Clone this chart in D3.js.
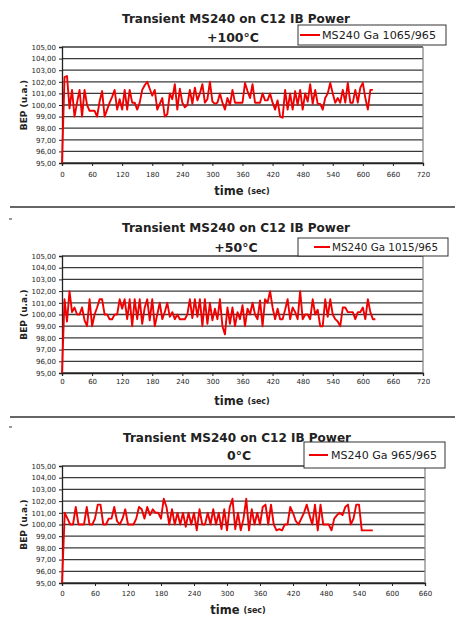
<!DOCTYPE html>
<html><head><meta charset="utf-8">
<script src="https://cdn.jsdelivr.net/npm/d3@7"></script>
<style>body{margin:0;background:#fff} svg{display:block}</style>
</head><body>
<svg id="c" width="459" height="618"></svg>
<script>
const chartTitle = "Transient MS240 on C12 IB Power";
const subtitles = ["+100°C", "+50°C", "0°C"];
const seriesNames = ["MS240 Ga 1065/965", "MS240 Ga 1015/965", "MS240 Ga 965/965"];
const yTicks = [95, 96, 97, 98, 99, 100, 101, 102, 103, 104, 105];
const xTicks720 = [0, 60, 120, 180, 240, 300, 360, 420, 480, 540, 600, 660, 720];
const xTicks660 = [0, 60, 120, 180, 240, 300, 360, 420, 480, 540, 600, 660];
const sampleStep = 5; // seconds between samples

const values100 = [
  95,102.4,102.5,99.7,101.3,99.0,100.2,101.3,99.0,101.3,
  100.0,99.5,99.5,99.5,99.0,100.3,101.2,99.0,99.6,100.2,
  100.7,101.3,99.6,100.5,99.6,101.3,99.6,101.3,100.2,100.2,
  99.6,100.2,101.3,101.7,102.0,101.4,100.8,101.3,99.6,100.1,
  100.6,99.0,99.2,101.0,100.5,101.8,99.6,101.4,100.2,99.8,
  100.0,101.3,100.1,101.5,100.4,101.0,101.8,100.2,100.5,102.0,
  100.3,100.1,100.2,101.0,100.2,99.6,100.6,100.0,101.3,100.2,
  100.2,100.2,100.2,101.9,101.2,100.6,101.8,100.2,100.2,100.2,
  101.0,100.4,100.4,101.0,100.2,99.6,100.4,99.0,98.9,101.3,
  99.6,101.0,99.6,101.2,100.0,101.3,99.6,101.0,100.3,101.8,
  100.1,101.3,100.1,100.1,99.6,100.6,101.0,101.9,101.0,100.2,
  100.6,100.2,101.3,100.2,101.9,100.2,100.2,101.3,100.2,101.5,
  101.9,100.6,99.6,101.3,101.3
];
const values50 = [
  95,101.3,99.4,102.0,100.2,100.6,100.0,100.0,100.6,99.5,
  99.0,101.3,99.0,100.0,100.6,101.3,101.3,100.0,100.0,99.6,
  99.6,100.0,100.0,101.3,100.5,101.3,99.6,101.3,99.0,101.3,
  99.6,101.3,99.2,100.6,101.3,99.5,101.3,99.0,100.0,101.0,
  99.6,100.2,101.0,99.8,100.2,99.6,100.0,99.6,99.6,99.6,
  100.0,101.3,99.7,101.3,99.8,101.3,99.0,101.3,99.2,101.0,
  99.5,100.5,99.6,101.3,99.0,98.3,100.6,99.2,100.6,99.0,
  100.2,99.6,100.8,99.0,100.5,100.0,101.0,100.0,99.6,101.2,
  99.0,101.3,101.0,102.0,100.6,99.6,100.5,99.6,99.6,100.4,
  101.3,99.6,100.6,100.2,99.6,102.0,99.6,100.0,100.0,99.6,
  101.3,100.0,100.4,99.0,99.0,101.3,99.8,101.3,100.0,99.6,
  99.4,99.0,100.6,100.6,100.2,100.2,100.2,99.6,100.2,100.2,
  100.6,99.6,101.3,100.2,99.6,99.6
];
const values0 = [
  95,101.0,100.5,100.0,100.0,101.5,100.0,100.0,100.0,101.5,
  100.0,100.0,100.5,101.7,101.7,100.0,100.0,100.5,100.5,101.5,
  100.3,100.0,100.5,101.3,100.0,100.0,100.0,100.5,101.5,101.3,
  100.5,101.5,100.8,101.3,101.0,101.0,100.5,102.2,101.5,100.0,
  101.3,100.0,101.0,100.0,101.0,99.8,101.0,100.0,101.0,99.5,
  101.3,100.0,100.0,101.0,100.0,101.3,100.0,101.0,99.6,101.3,
  99.5,101.5,102.2,99.6,101.0,99.5,100.5,102.2,99.5,101.3,
  100.0,101.0,100.0,101.5,101.7,100.0,101.7,100.0,99.5,99.6,
  99.5,100.0,100.0,101.5,101.0,100.3,100.0,100.5,101.0,101.7,
  100.8,100.0,101.7,99.5,101.7,100.0,100.0,100.0,99.5,100.5,
  100.8,101.0,100.8,101.5,101.7,100.0,100.5,101.7,101.7,99.5,
  99.5,99.5,99.5,99.5
];

const layouts = [
  {values: values100, xTicks: xTicks720, top: 47, bottom: 163, left: 62, right: 423,
   titleX: 236, titleY: 18, subX: 233, subY: 37,
   legend: {x: 298, y: 25, w: 148, h: 20, lx1: 300, lx2: 320, tx: 322, tw: 114},
   xlabY: 175, xtitleX: 242, xtitleY: 191},
  {values: values50, xTicks: xTicks720, top: 256, bottom: 373, left: 62, right: 423,
   titleX: 236, titleY: 227, subX: 236, subY: 247,
   legend: {x: 298, y: 238, w: 150, h: 18, lx1: 314, lx2: 330, tx: 332, tw: 106},
   xlabY: 382, xtitleX: 242, xtitleY: 401},
  {values: values0, xTicks: xTicks660, top: 466, bottom: 583, left: 62, right: 425,
   titleX: 237, titleY: 437, subX: 239, subY: 455,
   legend: {x: 304, y: 442, w: 141, h: 26, lx1: 309, lx2: 328, tx: 331, tw: 106},
   xlabY: 594, xtitleX: 238, xtitleY: 610}
];

const svg = d3.select("#c");
const fmt = v => d3.format(".2f")(v).replace(".", ",");

// separators
[207, 417].forEach(y => {
  svg.append("line").attr("x1", 10).attr("x2", 455).attr("y1", y).attr("y2", y)
    .attr("stroke", "#333").attr("stroke-width", 1.5);
});
[219, 427].forEach(y => {
  svg.append("line").attr("x1", 9).attr("x2", 12).attr("y1", y).attr("y2", y)
    .attr("stroke", "#333").attr("stroke-width", 1);
});

layouts.forEach((L, i) => {
  const g = svg.append("g");
  const xMax = L.xTicks[L.xTicks.length - 1];
  const x = d3.scaleLinear().domain([0, xMax]).range([L.left, L.right]);
  const y = d3.scaleLinear().domain([95, 105]).range([L.bottom, L.top]);

  // grid
  g.selectAll(".grid").data(yTicks).join("line")
    .attr("x1", L.left).attr("x2", L.right)
    .attr("y1", d => y(d)).attr("y2", d => y(d))
    .attr("stroke", "#3a3a3a").attr("stroke-width", 1.3);
  // right border
  g.append("line").attr("x1", L.right).attr("x2", L.right).attr("y1", L.top).attr("y2", L.bottom)
    .attr("stroke", "#888").attr("stroke-width", 1.3);

  // y axis
  const ya = g.append("g").attr("transform", `translate(${L.left},0)`)
    .call(d3.axisLeft(y).tickValues(yTicks).tickFormat(fmt).tickSize(3).tickPadding(3));
  ya.select(".domain").attr("stroke", "#222").attr("stroke-width", 1.3);
  ya.selectAll("text").attr("font-family", "DejaVu Sans").attr("font-size", 7).attr("fill", "#222");
  ya.selectAll("line").attr("stroke", "#222");

  // x axis
  const xa = g.append("g").attr("transform", `translate(0,${L.bottom})`)
    .call(d3.axisBottom(x).tickValues(L.xTicks).tickFormat(d3.format("d")).tickSize(3).tickPadding(2));
  xa.select(".domain").attr("stroke", "#222").attr("stroke-width", 1.3);
  xa.selectAll("line").attr("stroke", "#222");
  xa.selectAll("text").attr("font-family", "DejaVu Sans").attr("font-size", 7).attr("fill", "#222")
    .attr("dy", null).attr("y", L.xlabY - L.bottom).attr("dominant-baseline", "central");

  // series
  const line = d3.line().x((d, k) => x(k * sampleStep)).y(d => y(d));
  g.append("path").datum(L.values).attr("d", line)
    .attr("fill", "none").attr("stroke", "#f00000").attr("stroke-width", 1.9)
    .attr("stroke-linejoin", "round");

  // titles
  g.append("text").attr("x", L.titleX).attr("y", L.titleY).attr("text-anchor", "middle")
    .attr("dominant-baseline", "central").attr("font-family", "DejaVu Sans").attr("font-weight", "bold")
    .attr("font-size", 12.5).attr("textLength", 228).attr("lengthAdjust", "spacingAndGlyphs")
    .attr("fill", "#222").text(chartTitle);
  g.append("text").attr("x", L.subX).attr("y", L.subY).attr("text-anchor", "middle")
    .attr("dominant-baseline", "central").attr("font-family", "DejaVu Sans").attr("font-weight", "bold")
    .attr("font-size", 12.5).attr("fill", "#222").text(subtitles[i]);

  // y title
  g.append("text").attr("transform", `translate(24,${(L.top + L.bottom) / 2}) rotate(-90)`)
    .attr("text-anchor", "middle").attr("dominant-baseline", "central")
    .attr("font-family", "DejaVu Sans").attr("font-weight", "bold").attr("font-size", 9)
    .attr("fill", "#222").text("BEP (u.a.)");

  // x title
  const xt = g.append("text").attr("x", L.xtitleX).attr("y", L.xtitleY).attr("text-anchor", "middle")
    .attr("dominant-baseline", "central").attr("font-family", "DejaVu Sans").attr("font-weight", "bold")
    .attr("fill", "#222");
  xt.append("tspan").attr("font-size", 11.5).text("time ");
  xt.append("tspan").attr("font-size", 8).text(" (sec)");

  // legend
  const lg = L.legend;
  g.append("rect").attr("x", lg.x).attr("y", lg.y).attr("width", lg.w).attr("height", lg.h)
    .attr("fill", "#fff").attr("stroke", "#333").attr("stroke-width", 1);
  const cy = lg.y + lg.h / 2;
  g.append("line").attr("x1", lg.lx1).attr("x2", lg.lx2).attr("y1", cy).attr("y2", cy)
    .attr("stroke", "#f00000").attr("stroke-width", 2);
  g.append("text").attr("x", lg.tx).attr("y", cy).attr("dominant-baseline", "central")
    .attr("font-family", "DejaVu Sans").attr("font-size", 10.5)
    .attr("textLength", lg.tw).attr("lengthAdjust", "spacingAndGlyphs")
    .attr("fill", "#222").text(seriesNames[i]);
});
</script>
</body></html>
